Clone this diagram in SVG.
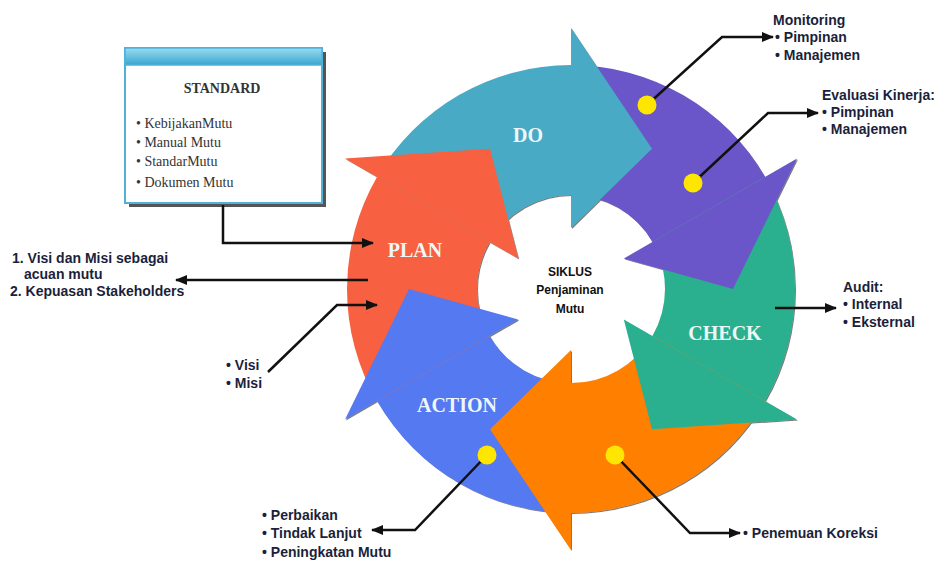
<svg xmlns="http://www.w3.org/2000/svg" width="934" height="565" viewBox="0 0 934 565">
<defs>
<style>
.lbl{font-family:"Liberation Serif","Times New Roman",serif;font-weight:bold;font-size:20px;fill:#EEF7F7;text-anchor:middle}
.side{font-family:"Liberation Sans",Arial,sans-serif;font-weight:bold;font-size:14px;fill:#1b1f3b}
.ctr{font-family:"Liberation Sans",Arial,sans-serif;font-weight:bold;font-size:12px;fill:#111;text-anchor:middle}
.std{font-family:"Liberation Serif","Times New Roman",serif;font-size:14px;fill:#333}
.conn{fill:none;stroke:#111;stroke-width:2.5;stroke-linejoin:miter}
.dot{fill:#FFE600}
</style>
<marker id="ah" markerUnits="userSpaceOnUse" markerWidth="12" markerHeight="10" refX="11" refY="5" orient="auto">
<path d="M0,0 L12,5 L0,10 Z" fill="#111"/>
</marker>
<linearGradient id="hdr" x1="0" y1="0" x2="0" y2="1">
<stop offset="0" stop-color="#9ADCF0"/>
<stop offset="1" stop-color="#3AA6D0"/>
</linearGradient>
<filter id="sh" x="-5%" y="-5%" width="110%" height="110%">
<feDropShadow dx="1" dy="1" stdDeviation="0.6" flood-color="#222" flood-opacity="0.6"/>
</filter>
</defs>

<g id="standard">
<rect x="129" y="52" width="197" height="155" fill="#555"/>
<rect x="125" y="48" width="197" height="155" fill="#FFFFFF" stroke="#4FB3D9" stroke-width="2"/>
<rect x="125" y="48" width="197" height="17" fill="url(#hdr)" stroke="#4FB3D9" stroke-width="1.5"/>
<text x="222" y="93" class="std" style="font-weight:bold;text-anchor:middle">STANDARD</text>
<text x="136" y="128" class="std">• KebijakanMutu</text>
<text x="136" y="147" class="std">• Manual Mutu</text>
<text x="136" y="166" class="std">• StandarMutu</text>
<text x="136" y="187" class="std">• Dokumen Mutu</text>
</g>

<g id="cycle" filter="url(#sh)">
<g id="bodies">
<path d="M377,177 A224,224 0 0 1 571,65 L571,195 A94,94 0 0 0 489.6,242 Z" fill="#4AAAC5"/>
<path d="M571,65 A224,224 0 0 1 765,177 L652.4,242 A94,94 0 0 0 571,195 Z" fill="#6A57C8"/>
<path d="M765,177 A224,224 0 0 1 765,401 L652.4,336 A94,94 0 0 0 652.4,242 Z" fill="#2AB08E"/>
<path d="M765,401 A224,224 0 0 1 571,513 L571,383 A94,94 0 0 0 652.4,336 Z" fill="#FF7F00"/>
<path d="M571,513 A224,224 0 0 1 377,401 L489.6,336 A94,94 0 0 0 571,383 Z" fill="#5579F0"/>
<path d="M377,401 A224,224 0 0 1 377,177 L489.6,242 A94,94 0 0 0 489.6,336 Z" fill="#F7603F"/>
</g>
<g id="heads">
<path d="M571,28 L652,148.7 L571,228 Z" fill="#4AAAC5"/>
<path d="M797,158.5 L733,289 L623.8,258.5 Z" fill="#6A57C8"/>
<path d="M797,419.5 L652,429.3 L623.8,319.5 Z" fill="#2AB08E"/>
<path d="M571,550 L490,429.3 L571,350 Z" fill="#FF7F00"/>
<path d="M345,419.5 L409,289 L518.2,319.5 Z" fill="#5579F0"/>
<path d="M345,158.5 L490,148.7 L518.2,258.5 Z" fill="#F7603F"/>
</g>
</g>

<g id="do"><text x="528" y="142" class="lbl">DO</text></g>
<g id="plan"><text x="415" y="257" class="lbl">PLAN</text></g>
<g id="check"><text x="725" y="340" class="lbl">CHECK</text></g>
<g id="action"><text x="457" y="412" class="lbl">ACTION</text></g>

<g id="center">
<text x="570" y="276" class="ctr">SIKLUS</text>
<text x="570" y="294" class="ctr">Penjaminan</text>
<text x="570" y="313" class="ctr">Mutu</text>
</g>

<g id="connectors">
<path class="conn" d="M647,105 L722,37 L773,37" marker-end="url(#ah)"/>
<path class="conn" d="M693,183 L768,113 L818,113" marker-end="url(#ah)"/>
<path class="conn" d="M775,308 L836,308" marker-end="url(#ah)"/>
<path class="conn" d="M615,455 L690,533 L740,533" marker-end="url(#ah)"/>
<path class="conn" d="M487,455 L415,530 L372,530" marker-end="url(#ah)"/>
<path class="conn" d="M268,372 L337,305 L377,305" marker-end="url(#ah)"/>
<path class="conn" d="M368,280 L176,280" marker-end="url(#ah)"/>
<path class="conn" d="M223,205 L223,243 L373,243" marker-end="url(#ah)"/>
</g>

<g id="dots">
<circle class="dot" cx="647" cy="105" r="9.5"/>
<circle class="dot" cx="693" cy="183" r="9.5"/>
<circle class="dot" cx="487" cy="455" r="9.5"/>
<circle class="dot" cx="615" cy="455" r="9.5"/>
</g>

<g id="monitoring">
<text x="773" y="25" class="side">Monitoring</text>
<text x="775" y="42" class="side">• Pimpinan</text>
<text x="775" y="60" class="side">• Manajemen</text>
</g>
<g id="evaluasi">
<text x="822" y="100" class="side">Evaluasi Kinerja:</text>
<text x="822" y="117" class="side">• Pimpinan</text>
<text x="822" y="134" class="side">• Manajemen</text>
</g>
<g id="audit">
<text x="843" y="292" class="side">Audit:</text>
<text x="843" y="309" class="side">• Internal</text>
<text x="843" y="327" class="side">• Eksternal</text>
</g>
<g id="koreksi">
<text x="743" y="538" class="side">• Penemuan Koreksi</text>
</g>
<g id="perbaikan">
<text x="262" y="520" class="side">• Perbaikan</text>
<text x="262" y="538" class="side">• Tindak Lanjut</text>
<text x="262" y="557" class="side">• Peningkatan Mutu</text>
</g>
<g id="visimisi">
<text x="226" y="370" class="side">• Visi</text>
<text x="226" y="388" class="side">• Misi</text>
</g>
<g id="acuan">
<text x="12" y="263" class="side">1. Visi dan Misi sebagai</text>
<text x="24" y="279" class="side">acuan mutu</text>
<text x="10" y="296" class="side">2. Kepuasan Stakeholders</text>
</g>
</svg>
